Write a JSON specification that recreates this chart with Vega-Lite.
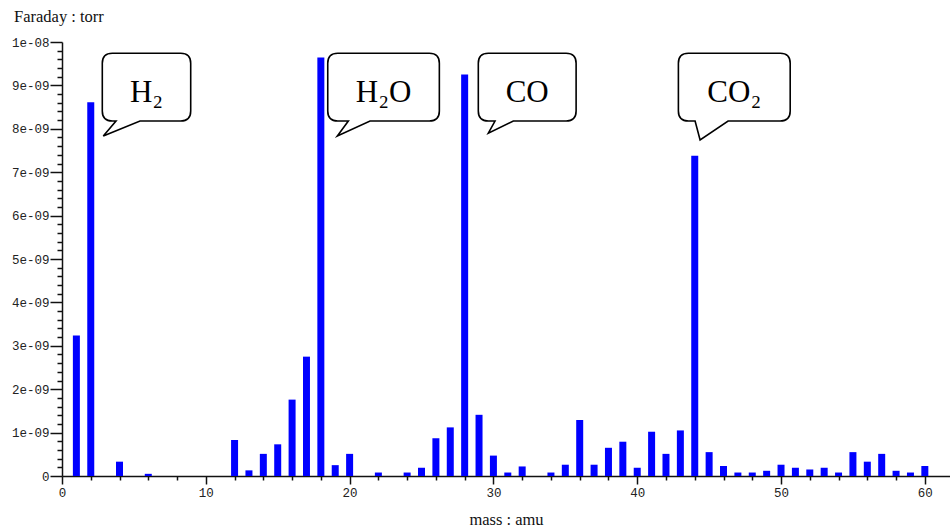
{
  "$schema": "https://vega.github.io/schema/vega-lite/v6.json",
  "width": 888,
  "height": 434,
  "autosize": {"type": "none"},
  "padding": {"left": 62, "top": 42, "right": 0, "bottom": 55},
  "background": "white",
  "title": {"text": "Faraday : torr", "anchor": "start", "frame": "group", "dx": -48, "offset": 11, "font": "Liberation Serif", "fontSize": 16.5, "fontWeight": "normal", "color": "#111111"},
  "config": {"view": {"stroke": null}},
  "datasets": {
    "peaks": [
      {"mass": 1, "value": 3.24e-9},
      {"mass": 2, "value": 8.61e-9},
      {"mass": 4, "value": 0.33e-9},
      {"mass": 6, "value": 0.05e-9},
      {"mass": 12, "value": 0.83e-9},
      {"mass": 13, "value": 0.13e-9},
      {"mass": 14, "value": 0.51e-9},
      {"mass": 15, "value": 0.73e-9},
      {"mass": 16, "value": 1.76e-9},
      {"mass": 17, "value": 2.75e-9},
      {"mass": 18, "value": 9.64e-9},
      {"mass": 19, "value": 0.25e-9},
      {"mass": 20, "value": 0.51e-9},
      {"mass": 22, "value": 0.08e-9},
      {"mass": 24, "value": 0.08e-9},
      {"mass": 25, "value": 0.19e-9},
      {"mass": 26, "value": 0.87e-9},
      {"mass": 27, "value": 1.12e-9},
      {"mass": 28, "value": 9.25e-9},
      {"mass": 29, "value": 1.41e-9},
      {"mass": 30, "value": 0.47e-9},
      {"mass": 31, "value": 0.08e-9},
      {"mass": 32, "value": 0.22e-9},
      {"mass": 34, "value": 0.08e-9},
      {"mass": 35, "value": 0.26e-9},
      {"mass": 36, "value": 1.29e-9},
      {"mass": 37, "value": 0.26e-9},
      {"mass": 38, "value": 0.65e-9},
      {"mass": 39, "value": 0.79e-9},
      {"mass": 40, "value": 0.19e-9},
      {"mass": 41, "value": 1.02e-9},
      {"mass": 42, "value": 0.51e-9},
      {"mass": 43, "value": 1.05e-9},
      {"mass": 44, "value": 7.38e-9},
      {"mass": 45, "value": 0.55e-9},
      {"mass": 46, "value": 0.23e-9},
      {"mass": 47, "value": 0.08e-9},
      {"mass": 48, "value": 0.08e-9},
      {"mass": 49, "value": 0.12e-9},
      {"mass": 50, "value": 0.26e-9},
      {"mass": 51, "value": 0.19e-9},
      {"mass": 52, "value": 0.15e-9},
      {"mass": 53, "value": 0.19e-9},
      {"mass": 54, "value": 0.08e-9},
      {"mass": 55, "value": 0.55e-9},
      {"mass": 56, "value": 0.33e-9},
      {"mass": 57, "value": 0.51e-9},
      {"mass": 58, "value": 0.12e-9},
      {"mass": 59, "value": 0.08e-9},
      {"mass": 60, "value": 0.23e-9}
    ],
    "labels": [
      {"label": "H₂", "mass": 5.876, "level": 8.96e-9},
      {"label": "H₂O", "mass": 22.36, "level": 8.96e-9},
      {"label": "CO", "mass": 32.35, "level": 8.96e-9},
      {"label": "CO₂", "mass": 46.75, "level": 8.96e-9}
    ]
  },
  "encoding": {
    "x": {
      "field": "mass", "type": "quantitative",
      "scale": {"domain": [0, 61.75], "nice": false, "zero": false, "padding": 0},
      "axis": {
        "title": "mass : amu",
        "titleFont": "Liberation Serif", "titleFontSize": 16.5, "titleFontWeight": "normal", "titleColor": "#111111", "titlePadding": 13,
        "values": [0,2,4,6,8,10,12,14,16,18,20,22,24,26,28,30,32,34,36,38,40,42,44,46,48,50,52,54,56,58,60],
        "labelExpr": "datum.value % 10 == 0 ? datum.label : ''",
        "labelFlush": false, "labelOverlap": false,
        "labelFont": "Liberation Mono", "labelFontSize": 12.5, "labelColor": "#222222", "labelPadding": 2,
        "tickSize": {"condition": {"test": "datum.value % 10 == 0", "value": 8}, "value": 4},
        "tickColor": "#111111", "tickWidth": 1.5,
        "domainColor": "#111111", "domainWidth": 1.5,
        "grid": false
      }
    },
    "y": {
      "field": "value", "type": "quantitative",
      "scale": {"domain": [0, 1e-8], "nice": false, "padding": 0},
      "axis": {
        "title": null,
        "values": [0,2e-10,4e-10,6e-10,8e-10,1e-9,1.2e-9,1.4e-9,1.6e-9,1.8e-9,2e-9,2.2e-9,2.4e-9,2.6e-9,2.8e-9,3e-9,3.2e-9,3.4e-9,3.6e-9,3.8e-9,4e-9,4.2e-9,4.4e-9,4.6e-9,4.8e-9,5e-9,5.2e-9,5.4e-9,5.6e-9,5.8e-9,6e-9,6.2e-9,6.4e-9,6.6e-9,6.8e-9,7e-9,7.2e-9,7.4e-9,7.6e-9,7.8e-9,8e-9,8.2e-9,8.4e-9,8.6e-9,8.8e-9,9e-9,9.2e-9,9.4e-9,9.6e-9,9.8e-9,1e-8],
        "labelExpr": "abs(datum.value*1e9 - round(datum.value*1e9)) < 1e-6 ? (datum.value == 0 ? '0' : replace(format(datum.value, '.0e'), 'e-', 'e-0')) : ''",
        "labelOverlap": false, "labelFlush": false,
        "labelFont": "Liberation Mono", "labelFontSize": 12.5, "labelColor": "#222222", "labelPadding": 1,
        "tickSize": {"condition": {"test": "abs(datum.value*1e9 - round(datum.value*1e9)) < 1e-6", "value": 12}, "value": 5},
        "tickColor": "#111111", "tickWidth": 1.5,
        "domainColor": "#111111", "domainWidth": 1.5,
        "grid": false
      }
    }
  },
  "layer": [
    {
      "data": {"name": "peaks"},
      "mark": {"type": "bar", "width": 7, "color": "#0000ff"},
      "encoding": {}
    },
    {
      "data": {"name": "labels"},
      "mark": {"type": "point", "filled": true, "fill": "white", "stroke": "black", "strokeWidth": 1.6, "size": 4, "opacity": 1},
      "encoding": {
        "y": {"field": "level", "type": "quantitative"},
        "shape": {
          "field": "label", "type": "nominal", "legend": null,
          "scale": {
            "domain": ["H₂", "H₂O", "CO", "CO₂"],
            "range": [
              "M -34.2,-33.9 L 34.2,-33.9 Q 44.2,-33.9 44.2,-23.9 L 44.2,23.9 Q 44.2,33.9 34.2,33.9 L -6.5,33.9 L -43.2,48.8 L -30.5,33.9 L -34.2,33.9 Q -44.2,33.9 -44.2,23.9 L -44.2,-23.9 Q -44.2,-33.9 -34.2,-33.9 Z",
              "M -45.8,-33.9 L 45.8,-33.9 Q 55.8,-33.9 55.8,-23.9 L 55.8,23.9 Q 55.8,33.9 45.8,33.9 L -13.5,33.9 L -46.2,48.8 L -35.2,33.9 L -45.8,33.9 Q -55.8,33.9 -55.8,23.9 L -55.8,-23.9 Q -55.8,-33.9 -45.8,-33.9 Z",
              "M -38.9,-33.9 L 38.9,-33.9 Q 48.9,-33.9 48.9,-23.9 L 48.9,23.9 Q 48.9,33.9 38.9,33.9 L -13.9,33.9 L -38.9,46.1 L -32.2,33.9 L -38.9,33.9 Q -48.9,33.9 -48.9,23.9 L -48.9,-23.9 Q -48.9,-33.9 -38.9,-33.9 Z",
              "M -45.9,-33.9 L 45.9,-33.9 Q 55.9,-33.9 55.9,-23.9 L 55.9,23.9 Q 55.9,33.9 45.9,33.9 L -6.2,33.9 L -34.2,52.8 L -39.2,33.9 L -45.9,33.9 Q -55.9,33.9 -55.9,23.9 L -55.9,-23.9 Q -55.9,-33.9 -45.9,-33.9 Z"
            ]
          }
        }
      }
    },
    {
      "data": {"name": "labels"},
      "mark": {"type": "text", "font": "Liberation Serif", "fontSize": 31, "align": "center", "baseline": "alphabetic", "dy": 15, "color": "black"},
      "encoding": {
        "y": {"field": "level", "type": "quantitative"},
        "text": {"field": "label"}
      }
    }
  ]
}
